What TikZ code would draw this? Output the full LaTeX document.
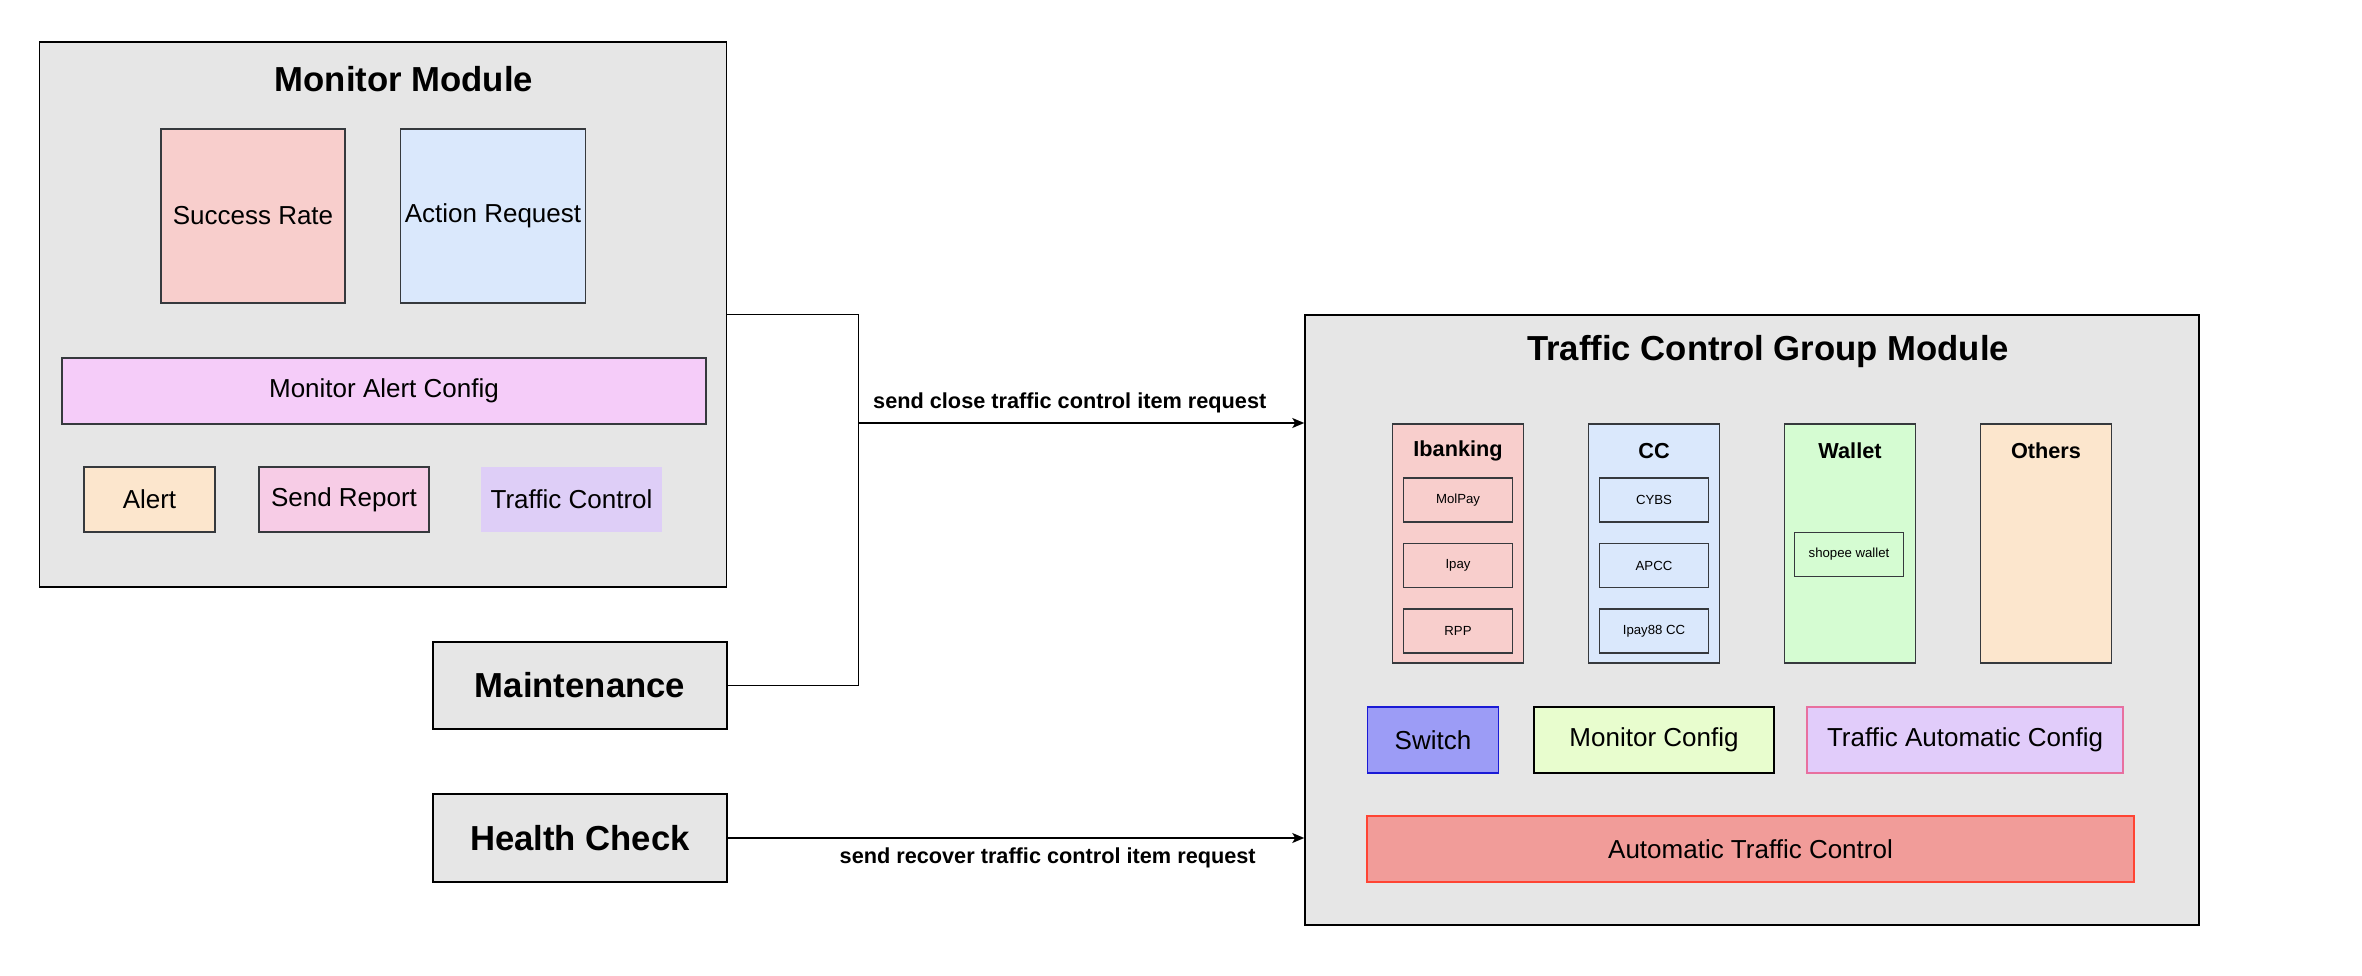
\documentclass[tikz,border=0pt]{standalone}
\usepackage{fontspec}
\setmainfont{Liberation Sans}
\usetikzlibrary{arrows,arrows.meta}

\definecolor{panel}{HTML}{E6E6E6}
\definecolor{edgegray}{HTML}{36393D}
\definecolor{rosefill}{HTML}{F8CECC}
\definecolor{skyfill}{HTML}{DAE8FC}
\definecolor{orchidfill}{HTML}{F5CCF9}
\definecolor{peachfill}{HTML}{FCE6CD}
\definecolor{pinkfill}{HTML}{F7CCE6}
\definecolor{lavenderfill}{HTML}{DECEF7}
\definecolor{mintfill}{HTML}{D5FCD2}
\definecolor{switchfill}{HTML}{9C9CF6}
\definecolor{switchline}{HTML}{1A1AD6}
\definecolor{limefill}{HTML}{E8FDCE}
\definecolor{lilacfill}{HTML}{E1CCFA}
\definecolor{lilacline}{HTML}{E8709F}
\definecolor{salmonfill}{HTML}{F19C99}
\definecolor{salmonline}{HTML}{FF4433}

\begin{document}
\begin{tikzpicture}[x=1pt,y=-1pt,->,>={Stealth[length=12pt,width=10pt,inset=3pt]},line width=1.5pt,
  module box/.style={draw=black,fill=panel,inner sep=0pt},
  item box/.style={draw=edgegray,inner sep=0pt,font=\fontsize{26}{30}\selectfont},
  big title/.style={inner sep=0pt,font=\fontsize{34.7}{40}\selectfont\bfseries},
  group title/.style={inner sep=0pt,font=\fontsize{21.7}{25}\selectfont\bfseries},
  leaf box/.style={draw=edgegray,inner sep=0pt,minimum width=109pt,minimum height=44pt,font=\fontsize{13.2}{15}\selectfont},
  group col/.style={draw=edgegray,inner sep=0pt,minimum width=131pt,minimum height=239pt}]
  \useasboundingbox (0,0) rectangle (2362,976);

  % monitor side
  \node[module box,minimum width=687pt,minimum height=545pt] (monitor) at (383,314.5) {};
  \node[big title] (monitortitle) at (404,79) {Monitor Module};
  \node[item box,fill=rosefill,minimum width=184pt,minimum height=174pt] (rate) at (253,216) {Success Rate};
  \node[item box,fill=skyfill,minimum width=185pt,minimum height=174pt] (action) at (493,216) {Action Request};
  \node[item box,fill=orchidfill,minimum width=644pt,minimum height=66pt] (alertcfg) at (384,391) {Monitor Alert Config};
  \node[item box,fill=peachfill,minimum width=131pt,minimum height=65pt] (alert) at (149.5,499.5) {Alert};
  \node[item box,fill=pinkfill,minimum width=170pt,minimum height=65pt] (report) at (344,499.5) {Send Report};
  \node[item box,draw=none,fill=lavenderfill,minimum width=181pt,minimum height=65pt] (control) at (571.5,499.5) {Traffic Control};

  \node[module box,big title,minimum width=294pt,minimum height=87pt] (maint) at (580,685.5) {Maintenance};
  \node[module box,big title,minimum width=294pt,minimum height=88pt] (health) at (580,838) {Health Check};

  % traffic control group side
  \node[module box,minimum width=894pt,minimum height=610pt] (tcg) at (1752,620) {};
  \node[big title] (tcgtitle) at (1768,352) {Traffic Control Group Module};

  \node[group col,fill=rosefill] (ibanking) at (1458,543.5) {};
  \node[group col,fill=skyfill] (cc) at (1654,543.5) {};
  \node[group col,fill=mintfill] (wallet) at (1850,543.5) {};
  \node[group col,fill=peachfill] (others) at (2046,543.5) {};
  \node[group title] (ibankingtitle) at (1458,451) {Ibanking};
  \node[group title] (cctitle) at (1654,451) {CC};
  \node[group title] (wallettitle) at (1850,451) {Wallet};
  \node[group title] (otherstitle) at (2046,451) {Others};

  \node[leaf box] (molpay) at (1458,500) {MolPay};
  \node[leaf box] (ipay) at (1458,565.5) {Ipay};
  \node[leaf box] (rpp) at (1458,631) {RPP};
  \node[leaf box] (cybs) at (1654,500) {CYBS};
  \node[leaf box] (apcc) at (1654,565.5) {APCC};
  \node[leaf box] (ipaycc) at (1654,631) {Ipay88 CC};
  \node[leaf box] (shopee) at (1849,554.5) {shopee wallet};

  \node[item box,draw=switchline,fill=switchfill,minimum width=131pt,minimum height=66pt] (switch) at (1433,740) {Switch};
  \node[item box,draw=black,fill=limefill,minimum width=240pt,minimum height=66pt] (monitorcfg) at (1654,740) {Monitor Config};
  \node[item box,draw=lilacline,fill=lilacfill,minimum width=316pt,minimum height=66pt] (autocfg) at (1965,740) {Traffic Automatic Config};
  \node[item box,draw=salmonline,fill=salmonfill,minimum width=767pt,minimum height=66pt] (autocontrol) at (1750.5,849) {Automatic Traffic Control};

  % connectors
  \coordinate (split) at (858.5,423);
  \draw[-] (monitor.east) -| (split) |- (maint.east);

\path[every node/.style={inner sep=0pt,font=\fontsize{21.7}{25}\selectfont\bfseries}]
  (split) edge node[pos=0.474,above=9pt] {send close traffic control item request} (split -| tcg.west)
  (health.east) edge node[pos=0.555,below=9pt] {send recover traffic control item request} (health.east -| tcg.west)
;
\end{tikzpicture}
\end{document}
